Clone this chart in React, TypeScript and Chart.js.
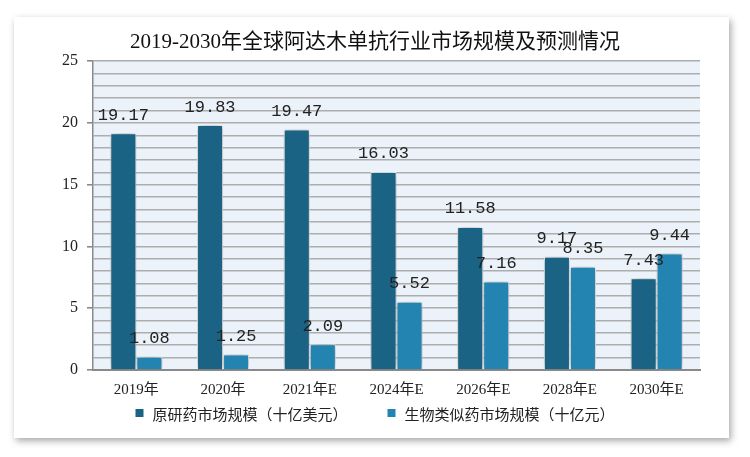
import React, { useEffect, useRef } from "react";
import { Chart, registerables } from "chart.js";

Chart.register(...registerables);

const categories = ["2019年", "2020年", "2021年E", "2024年E", "2026年E", "2028年E", "2030年E"];
const originalSeries = [19.17, 19.83, 19.47, 16.03, 11.58, 9.17, 7.43];
const biosimilarSeries = [1.08, 1.25, 2.09, 5.52, 7.16, 8.35, 9.44];
const seriesNames = ["原研药市场规模（十亿美元）", "生物类似药市场规模（十亿元）"];
const titleText = "2019-2030年全球阿达木单抗行业市场规模及预测情况";

const DARK = "#1b6385";
const LIGHT = "#2384b1";
const SERIF = "'Liberation Serif', 'Noto Sans CJK SC', serif";

const plotBg = {
  id: "plotBg",
  beforeDraw(chart: any) {
    const { ctx, chartArea } = chart;
    ctx.save();
    ctx.fillStyle = "#ebf2f9";
    ctx.fillRect(chartArea.left, chartArea.top, chartArea.right - chartArea.left, chartArea.bottom - chartArea.top);
    ctx.restore();
  },
  beforeDatasetsDraw(chart: any) {
    const ctx = chart.ctx;
    ctx.save();
    ctx.shadowColor = "rgba(0,0,0,0.45)";
    ctx.shadowBlur = 7;
    ctx.shadowOffsetX = 0;
    ctx.shadowOffsetY = 0;
  },
  afterDatasetsDraw(chart: any) {
    const ctx = chart.ctx;
    ctx.restore();
    ctx.save();
    ctx.font = "17px 'Liberation Mono', monospace";
    ctx.fillStyle = "#222";
    ctx.textAlign = "center";
    ctx.textBaseline = "middle";
    chart.data.datasets.forEach((ds: any, i: number) => {
      const meta = chart.getDatasetMeta(i);
      meta.data.forEach((el: any, j: number) => {
        ctx.fillText(ds.data[j].toFixed(2), el.x, el.y - 18);
      });
    });
    ctx.restore();
  },
  afterDraw(chart: any) {
    const ctx = chart.ctx;
    ctx.save();
    ctx.font = "15px 'Noto Sans CJK SC', sans-serif";
    ctx.textBaseline = "middle";
    ctx.textAlign = "left";
    const box = 8, gap = 9, itemGap = 40, y = 413;
    const items = chart.data.datasets.map((ds: any) => ({
      label: ds.label,
      color: ds.backgroundColor,
      w: ctx.measureText(ds.label).width,
    }));
    const total = items.reduce((s: number, it: any) => s + box + gap + it.w, 0) + itemGap * (items.length - 1);
    let x = 375 - total / 2;
    items.forEach((it: any) => {
      ctx.fillStyle = it.color;
      ctx.fillRect(x, y - box / 2, box, box);
      ctx.fillStyle = "#222";
      ctx.fillText(it.label, x + box + gap, y + 1);
      x += box + gap + it.w + itemGap;
    });
    ctx.restore();
  },
};

export default function App() {
  const ref = useRef<HTMLCanvasElement>(null);
  useEffect(() => {
    const chart = new Chart(ref.current as HTMLCanvasElement, {
      type: "bar",
      data: {
        labels: categories,
        datasets: [
          { label: seriesNames[0], data: originalSeries, backgroundColor: DARK, borderColor: "#ffffff", borderWidth: 1 },
          { label: seriesNames[1], data: biosimilarSeries, backgroundColor: LIGHT, borderColor: "#ffffff", borderWidth: 1 },
        ],
      },
      options: {
        responsive: false,
        animation: false,
        layout: { padding: { top: 0, right: 50, bottom: 58, left: 50 } },
        datasets: { bar: { barPercentage: 1, categoryPercentage: 0.6 } } as any,
        plugins: {
          title: {
            display: true,
            text: titleText,
            color: "#111",
            font: { family: SERIF, size: 21, weight: "normal" as any, lineHeight: 1.2 },
            padding: { top: 30, bottom: 6 },
          },
          legend: { display: false },
          tooltip: { enabled: false },
        },
        scales: {
          x: {
            grid: { display: false },
            border: { color: "#8a8a8a", width: 2 },
            ticks: { color: "#222", font: { family: SERIF, size: 15 }, padding: 3 },
            afterFit(scale: any) { scale.height = 29; },
          },
          y: {
            min: 0,
            max: 25,
            ticks: {
              stepSize: 1,
              autoSkip: false,
              color: "#222",
              font: { family: SERIF, size: 16 },
              padding: 9,
              callback: (v: any) => (Number(v) % 5 === 0 ? String(v) : ""),
            },
            grid: {
              color: "#adadad",
              lineWidth: 1.6,
              tickLength: 6,
              tickColor: (c: any) => (c.tick && c.tick.value % 5 === 0 ? "#8a8a8a" : "rgba(0,0,0,0)"),
            },
            border: { color: "#8a8a8a", width: 1.5 },
            afterFit(scale: any) { scale.width = 43; },
          },
        },
      },
      plugins: [plotBg],
    });
    return () => chart.destroy();
  }, []);

  return (
    <div style={{ position: "absolute", left: 0, top: 0, width: 750, height: 457, background: "#ffffff" }}>
      <div
        style={{
          position: "absolute",
          left: 14,
          top: 17,
          width: 715,
          height: 421,
          background: "#ffffff",
          boxShadow: "2px 3px 7px rgba(0,0,0,0.35)",
        }}
      />
      <canvas ref={ref} width={750} height={457} style={{ position: "absolute", left: 0, top: 0, width: 750, height: 457 }} />
    </div>
  );
}
